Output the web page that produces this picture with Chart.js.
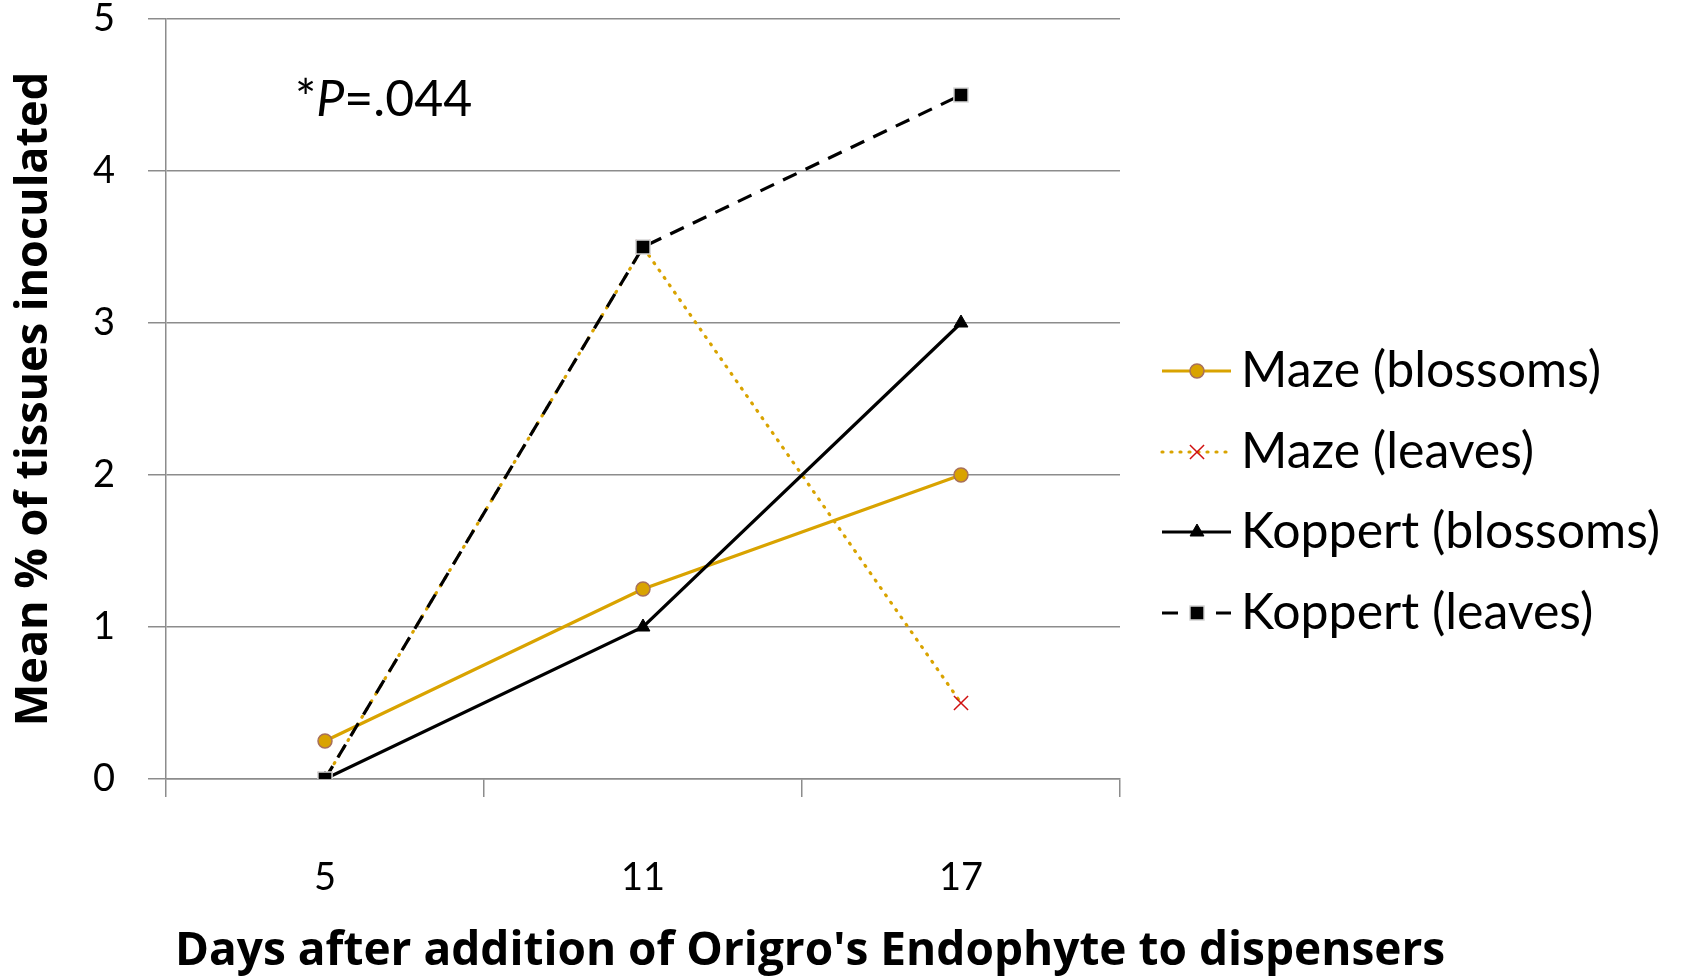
<!DOCTYPE html>
<html>
<head>
<meta charset="utf-8">
<script src="https://cdn.jsdelivr.net/npm/chart.js@4/dist/chart.umd.min.js"></script>
<style>
  html, body { margin: 0; padding: 0; background: #fff; }
  #wrap { width: 1682px; height: 976px; }
</style>
</head>
<body>
<div id="wrap"><canvas id="chart" width="1682" height="976"></canvas></div>
<script>
/* ---- data ---- */
var days = ['5', '11', '17'];
var mazeBlossoms = [0.25, 1.25, 2.0];
var mazeLeaves = [0, 3.5, 0.5];
var koppertBlossoms = [0, 1.0, 3.0];
var koppertLeaves = [0, 3.5, 4.5];
var yTicks = [0, 1, 2, 3, 4, 5];
var xTitle = "Days after addition of Origro's Endophyte to dispensers";

var FONT = "'Lato', 'Open Sans', sans-serif";
var TITLE_FONT = "'Open Sans', 'Lato', sans-serif";
var GOLD = '#d9a300';
var GRID = '#8c8c8c';

(function() {
    'use strict';

    var ctxEl = document.getElementById('chart');

    /* legend drawn by hand: line sample + marker in the middle */
    var sideLegend = {
        id: 'sideLegend',
        afterDraw: function(chart) {
            var ctx = chart.ctx;
            var x0 = 1162, x1 = 1231, xm = 1197, tx = 1241;
            var rows = [371, 452, 532, 613];
            chart.data.datasets.forEach(function(ds, i) {
                var y = rows[i];
                ctx.save();
                ctx.strokeStyle = ds.borderColor;
                ctx.lineWidth = ds.borderWidth;
                ctx.lineCap = ds.borderCapStyle || 'butt';
                if (ds.legendDash) ctx.setLineDash(ds.legendDash);
                ctx.beginPath();
                if (ds.legendGap) {
                    ctx.moveTo(x0, y); ctx.lineTo(xm - 19, y);
                    ctx.moveTo(xm + 19, y); ctx.lineTo(x1, y);
                } else {
                    ctx.moveTo(x0, y); ctx.lineTo(x1, y);
                }
                ctx.stroke();
                ctx.restore();
                ctx.save();
                ctx.fillStyle = ds.pointBackgroundColor;
                ctx.strokeStyle = ds.pointBorderColor;
                ctx.lineWidth = ds.pointBorderWidth;
                Chart.helpers.drawPoint(ctx, {
                    pointStyle: ds.pointStyle,
                    radius: ds.pointRadius,
                    borderWidth: ds.pointBorderWidth
                }, xm, y);
                ctx.restore();
                ctx.save();
                ctx.fillStyle = '#000';
                ctx.font = '50px ' + FONT;
                ctx.textBaseline = 'middle';
                ctx.fillText(ds.label, tx, y);
                ctx.restore();
            });
        }
    };

    /* *P=.044 note (P in italics) and the x axis title, which runs wider than the plot */
    var extraText = {
        id: 'extraText',
        afterDraw: function(chart) {
            var ctx = chart.ctx;
            ctx.save();
            ctx.fillStyle = '#000';
            ctx.textBaseline = 'middle';
            var x = 295, y = 100;
            ctx.font = '50px ' + FONT;
            ctx.fillText('*', x, y);
            x += ctx.measureText('*').width;
            ctx.font = 'italic 50px ' + FONT;
            ctx.fillText('P', x, y);
            x += ctx.measureText('P').width;
            ctx.font = '50px ' + FONT;
            ctx.fillText('=.044', x, y);

            ctx.font = 'bold 46px ' + TITLE_FONT;
            ctx.fillText(xTitle, 175, 952);
            ctx.restore();
        }
    };

    new Chart(ctxEl, {
        type: 'line',
        data: {
            labels: days,
            datasets: [
                {
                    label: 'Maze (blossoms)',
                    data: mazeBlossoms,
                    borderColor: GOLD,
                    borderWidth: 3.2,
                    pointStyle: 'circle',
                    pointRadius: 7,
                    pointBackgroundColor: GOLD,
                    pointBorderColor: '#a8705a',
                    pointBorderWidth: 1.5,
                    order: 4
                },
                {
                    label: 'Maze (leaves)',
                    data: mazeLeaves,
                    borderColor: GOLD,
                    borderWidth: 3.2,
                    borderDash: [1, 8],
                    borderCapStyle: 'round',
                    legendDash: [1, 8],
                    pointStyle: 'crossRot',
                    pointRadius: 10,
                    pointBackgroundColor: '#d01010',
                    pointBorderColor: '#d01010',
                    pointBorderWidth: 1.5,
                    order: 3
                },
                {
                    label: 'Koppert (blossoms)',
                    data: koppertBlossoms,
                    borderColor: '#000',
                    borderWidth: 3.2,
                    pointStyle: 'triangle',
                    pointRadius: 8,
                    pointBackgroundColor: '#000',
                    pointBorderColor: '#000',
                    pointBorderWidth: 1,
                    order: 2
                },
                {
                    label: 'Koppert (leaves)',
                    data: koppertLeaves,
                    borderColor: '#000',
                    borderWidth: 3.2,
                    borderDash: [15, 10],
                    legendGap: true,
                    pointStyle: 'rect',
                    pointRadius: 10,
                    pointBackgroundColor: '#000',
                    pointBorderColor: '#d8d8d8',
                    pointBorderWidth: 1.5,
                    order: 1
                }
            ]
        },
        options: {
            responsive: false,
            animation: false,
            layout: { padding: { left: 0, top: 19, right: 562, bottom: 0 } },
            plugins: {
                legend: { display: false },
                tooltip: { enabled: false }
            },
            scales: {
                x: {
                    type: 'category',
                    offset: true,
                    afterFit: function(s) {
                        s.height = 197;
                        s.paddingLeft = 0;
                        s.paddingRight = 0;
                    },
                    grid: {
                        offset: true,
                        drawOnChartArea: false,
                        drawTicks: true,
                        tickLength: 18,
                        color: GRID,
                        lineWidth: 1.5
                    },
                    border: { color: GRID, width: 1.5 },
                    ticks: {
                        color: '#000',
                        padding: 58,
                        font: { family: FONT, size: 38 }
                    }
                },
                y: {
                    min: 0,
                    max: 5,
                    afterFit: function(s) {
                        s.width = 166;
                        s.paddingTop = 0;
                        s.paddingBottom = 0;
                    },
                    afterBuildTicks: function(s) {
                        s.ticks = yTicks.map(function(v) { return { value: v }; });
                    },
                    grid: {
                        color: GRID,
                        lineWidth: 1.5,
                        drawTicks: true,
                        tickLength: 18
                    },
                    border: { color: GRID, width: 1.5 },
                    ticks: {
                        color: '#000',
                        padding: 33,
                        font: { family: FONT, size: 38 }
                    },
                    title: {
                        display: true,
                        text: 'Mean % of tissues inoculated',
                        color: '#000',
                        padding: { top: 7, bottom: 0 },
                        font: { family: TITLE_FONT, size: 45, weight: 'bold' }
                    }
                }
            }
        },
        plugins: [sideLegend, extraText]
    });
})();
</script>
</body>
</html>
